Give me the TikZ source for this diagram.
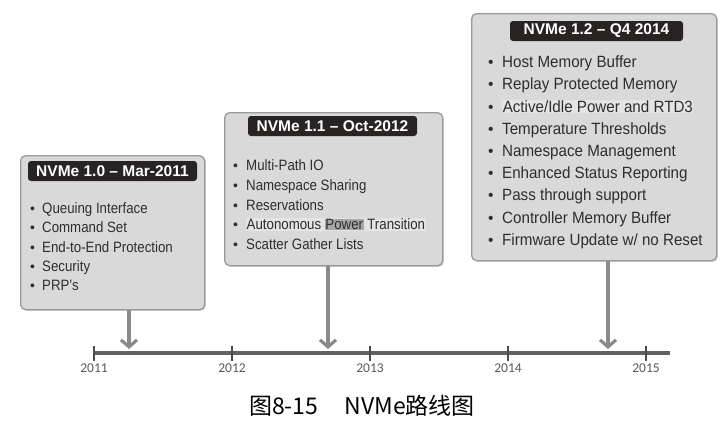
\documentclass[tikz,border=0pt]{standalone}
\usepackage{fontspec}
\setmainfont{Liberation Sans}
\newfontfamily\cjk{Noto Sans CJK SC}
\newfontfamily\carlito{Carlito}
\usetikzlibrary{arrows.meta,shadows}
\definecolor{caixa}{HTML}{D9D9D9}
\definecolor{vora}{HTML}{9A9A9A}
\definecolor{capcal}{HTML}{272423}
\definecolor{fletxa}{HTML}{8A8A8A}
\definecolor{eix}{HTML}{626262}
\definecolor{lletra}{HTML}{2E2E2E}
\definecolor{marca}{HTML}{A6A6A6}
\definecolor{banda}{HTML}{E4E4E4}
\newcommand{\estret}[2]{\scalebox{#1}[1]{#2}}
\tikzset{
  panell/.style={draw=vora, fill=caixa, rounded corners=5pt, line width=1.3pt,
    anchor=north west, inner sep=0pt,
    drop shadow={shadow xshift=1.2pt, shadow yshift=-1.2pt, fill=black!35, opacity=.5}},
  capcalera/.style={fill=capcal, rounded corners=3pt, text=white, inner sep=0pt,
    font=\bfseries\fontsize{15.5}{16}\selectfont, minimum height=20pt},
  punt/.style={anchor=mid west, inner sep=0pt, text=lletra},
  element/.style={anchor=mid west, inner sep=0pt, text=lletra},
  fletxa/.style={draw=fletxa, line width=3.6pt,
    -{Straight Barb[length=7pt, width=16pt, line width=3.2pt]}},
  eix/.style={draw=eix, line width=3.2pt},
  marcany/.style={draw=black!70, line width=1.1pt},
  etiqany/.style={text=black!65, font=\carlito\fontsize{13.5}{14}\selectfont},
  peu/.style={font=\cjk\fontsize{23}{24}\selectfont},
}
\setlength{\fboxsep}{0.6pt}

\begin{document}
\begin{tikzpicture}[x=1pt,y=-1pt]
  \fill[white] (0,0) rectangle (727,432);
  \useasboundingbox (0,0) rectangle (727,432);

  % NVMe 1.0
  \node[panell, minimum width=184pt, minimum height=154pt] (v10) at (20,155) {};
  \node[capcalera, minimum width=169pt] (c10) at (112.5,171) {NVMe 1.0 -- Mar-2011};
  \foreach \txt [count=\i] in {Queuing Interface, Command Set,
      End-to-End Protection, Security, PRP's} {
    \node[punt, font=\fontsize{14}{15}\selectfont] (p10-\i) at ({30},{211+19.3*(\i-1)}) {•};
    \node[element, font=\fontsize{15}{16}\selectfont] (e10-\i) at ({42},{211+19.3*(\i-1)}) {\estret{.885}{\txt}};
  }

  % NVMe 1.1
  \node[panell, minimum width=218pt, minimum height=153pt] (v11) at (224,112) {};
  \node[capcalera, minimum width=169pt] (c11) at (332.5,126) {NVMe 1.1 -- Oct-2012};
  \foreach \txt [count=\i] in {Multi-Path IO, Namespace Sharing, Reservations,
      \colorbox{banda}{Autonomous \colorbox{marca}{Power} Transition},
      Scatter Gather Lists} {
    \node[punt, font=\fontsize{14}{15}\selectfont] (p11-\i) at ({233},{168+19.7*(\i-1)}) {•};
    \node[element, font=\fontsize{15}{16}\selectfont] (e11-\i) at ({246},{168+19.7*(\i-1)}) {\estret{.885}{\txt}};
  }

  % NVMe 1.2
  \node[panell, minimum width=245pt, minimum height=247pt] (v12) at (471,13) {};
  \node[capcalera, minimum width=173pt] (c12) at (596.5,31) {NVMe 1.2 -- Q4 2014};
  \foreach \txt [count=\i] in {Host Memory Buffer, Replay Protected Memory,
      \colorbox{banda}{Active/Idle Power and RTD3}, Temperature Thresholds,
      Namespace Management, Enhanced Status Reporting, Pass through support,
      Controller Memory Buffer, Firmware Update w/ no Reset} {
    \node[punt, font=\fontsize{15.5}{16}\selectfont] (p12-\i) at ({488},{65+22.2*(\i-1)}) {•};
    \node[element, font=\fontsize{16.3}{17}\selectfont] (e12-\i) at ({502},{65+22.2*(\i-1)}) {\estret{.93}{\txt}};
  }

  % eix del temps
  \coordinate (ini) at (94,353);
  \coordinate (fi) at (670,353);
  \draw[eix] (ini) -- (fi);
  \foreach \a [count=\k from 0] in {2011,2012,2013,2014,2015} {
    \coordinate (t\a) at ({94+138*\k},353);
    \draw[marcany] ([yshift=7.5pt]t\a) -- ([yshift=-7.5pt]t\a);
    \node[etiqany] (l\a) at ({94+138*\k},368) {\a};
  }

  % fletxes
  \coordinate (f10) at (129,349);
  \coordinate (f11) at (328,349);
  \coordinate (f12) at (608,349);
  \draw[fletxa] (v10.south -| f10) -- (f10);
  \draw[fletxa] (v11.south -| f11) -- (f11);
  \draw[fletxa] (v12.south -| f12) -- (f12);

  \node[peu] (peu) at (362,406) {图8-15\hspace{26pt}NVMe路线图};
\end{tikzpicture}
\end{document}
